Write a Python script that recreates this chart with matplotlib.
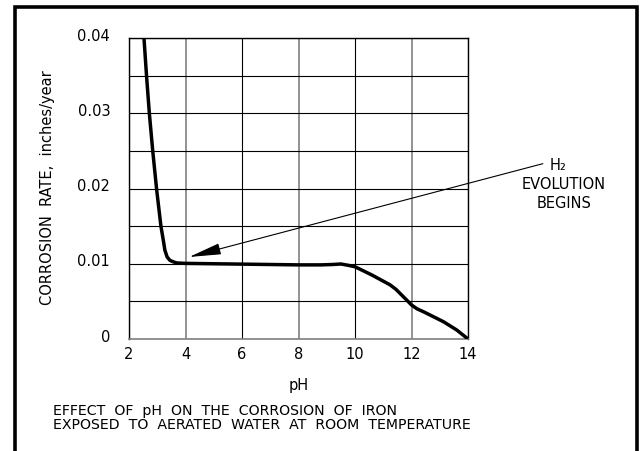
import numpy as np
import matplotlib
matplotlib.use("Agg")
import matplotlib.pyplot as plt
from matplotlib.patches import Rectangle
from matplotlib.transforms import ScaledTranslation

# curve (pH, corrosion rate in inches/year)
ph = [2.53, 2.62, 2.72, 2.84, 2.98, 3.13, 3.22, 3.27, 3.35, 3.45, 3.57, 3.70,
      4.0, 5.0, 6.0, 7.0, 8.0, 8.8, 9.2, 9.5, 9.75, 10.0, 10.6, 11.24,
      11.45, 11.65, 11.85, 12.0, 12.2, 12.42, 13.13, 13.6, 14.0]
rate = [0.0400, 0.0350, 0.0300, 0.0250, 0.0198, 0.0150, 0.0130, 0.0118, 0.0109,
        0.01045, 0.01025, 0.0101,
        0.01005, 0.0100, 0.00995, 0.0099, 0.00985, 0.00985, 0.0099, 0.00997,
        0.0098, 0.0096, 0.0085, 0.0072,
        0.0066, 0.00585, 0.0051, 0.00452, 0.0040, 0.00363, 0.0023, 0.0012, 0.0]

x_ticks = [2, 4, 6, 8, 10, 12, 14]
y_ticks = [0, 0.01, 0.02, 0.03, 0.04]
y_minor = [0.005, 0.015, 0.025, 0.035]
y_labels = ["0", "0.01", "0.02", "0.03", "0.04"]

arrow_tip = (4.13, 0.0109)
arrow_tail = (16.65, 0.0233)

plt.rcParams['font.family'] = ['DejaVu Sans']
plt.rcParams['font.size'] = 10.5

W, H = 643, 451
fig = plt.figure(figsize=(W / 100, H / 100), dpi=100)
ax = fig.add_axes([129 / W, 1 - 339 / H, 339 / W, 301 / H])

ax.plot(ph, rate, color='black', lw=2.5, solid_capstyle='butt', zorder=3)

ax.set_xlim(2, 14)
ax.set_ylim(0, 0.04)
ax.set_xticks(x_ticks)
ax.set_yticks(y_ticks)
ax.set_yticklabels(y_labels)
ax.set_yticks(y_minor, minor=True)
ax.tick_params(which='both', length=0)
ax.tick_params(axis='y', pad=13.5)
ax.tick_params(axis='x', pad=6)

ax.grid(axis='y', which='both', color='black', lw=0.8)
ax.grid(axis='x', which='major', color='black', lw=0.8)
for i, gl in enumerate(ax.get_xgridlines()):
    if i % 2 == 1:
        gl.set_color('#808080')
        gl.set_linewidth(1.2)

for s in ['left', 'top', 'right']:
    ax.spines[s].set_color('black')
    ax.spines[s].set_linewidth(1.0)
ax.spines['bottom'].set_color('#808080')
ax.spines['bottom'].set_linewidth(1.2)

# y tick labels sit a little above their grid lines
off = ScaledTranslation(0, 2.5 / 72, fig.dpi_scale_trans)
for lab in ax.get_yticklabels():
    lab.set_transform(lab.get_transform() + off)

ax.set_xlabel("pH", labelpad=11)
ax.set_ylabel("CORROSION  RATE,  inches/year", va='center')
ax.yaxis.set_label_coords((48 - 129) / 339, (339 - 188) / 301)

ax.annotate('', xy=arrow_tip, xytext=arrow_tail, annotation_clip=False,
            arrowprops=dict(arrowstyle='-|>,head_length=2.0,head_width=0.35',
                            mutation_scale=10, lw=0.8, color='black',
                            shrinkA=0, shrinkB=0))

fig.text(550 / W, 1 - 166 / H, "H\u2082", ha='left', va='center')
fig.text(564 / W, 1 - 184.5 / H, "EVOLUTION", ha='center', va='center')
fig.text(564 / W, 1 - 203 / H, "BEGINS", ha='center', va='center')

fig.text(53 / W, 1 - 415 / H, "EFFECT  OF  pH  ON  THE  CORROSION  OF  IRON",
         ha='left', va='baseline', fontsize=10.2)
fig.text(53 / W, 1 - 429 / H, "EXPOSED  TO  AERATED  WATER  AT  ROOM  TEMPERATURE",
         ha='left', va='baseline', fontsize=10.2)

# heavy frame round the whole drawing, open at the bottom
fig.add_artist(Rectangle((15.5 / W, -0.1), 621 / W, 1 - 6.5 / H + 0.1,
                         transform=fig.transFigure, fill=False,
                         lw=2.6, edgecolor='black'))

fig.savefig("out.png", dpi=100)
